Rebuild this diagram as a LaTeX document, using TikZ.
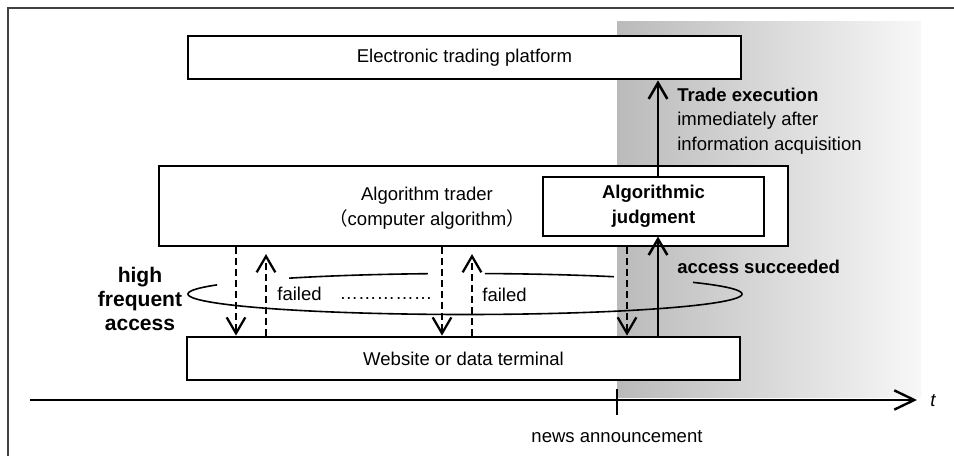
\documentclass[tikz,border=0pt]{standalone}
\usepackage{fontspec}
\setmainfont{Liberation Sans}
\newfontfamily\cjkfont{Noto Sans CJK JP}
\usetikzlibrary{arrows.meta, positioning}
\definecolor{cFrame}{gray}{0.25}

\begin{document}
\begin{tikzpicture}[
  x=0.75pt, y=-0.75pt,
  lbl/.style={inner sep=0pt, font=\fontsize{13.9}{18.4}\selectfont},
  boldlbl/.style={inner sep=0pt, font=\fontsize{13.9}{18.4}\selectfont\bfseries},
  bigbold/.style={inner sep=0pt, align=center,
                  font=\fontsize{15.8}{18}\selectfont\bfseries},
  sysbox/.style={rectangle, draw, line width=2.1pt, fill=white, inner sep=0pt,
                 minimum width=414.75pt, minimum height=32.25pt,
                 font=\fontsize{13.9}{18.4}\selectfont},
  jbox/.style={rectangle, draw, line width=0.8pt, fill=white, inner sep=0pt,
               minimum width=165.75pt, minimum height=44.25pt, align=center,
               font=\fontsize{13.9}{18.4}\selectfont\bfseries},
  darr/.style={-{Straight Barb[length=12pt, width=14pt]}, line width=1.7pt,
               dash pattern=on 5.25pt off 3pt},
  sarr/.style={-{Straight Barb[length=12pt, width=14pt]}, line width=1.9pt},
  taxis/.style={-{Straight Barb[length=15pt, width=14.5pt]}, line width=1.8pt},
  loopline/.style={line width=1.2pt},
]
\useasboundingbox (0,0) rectangle (954,456);

% time after the news
\shade[left color=black!27, right color=black!3] (617,22) rectangle (921,397);

% frame
\draw[cFrame, line width=1.2pt] (8,456) -- (8,8) -- (954,8);

\node[sysbox] (plat) at (464.5,57.5) {Electronic trading platform};
\node[sysbox, minimum width=471.75pt, minimum height=60pt] (trader) at (473.5,206) {};
\node[lbl, align=center] (trtext) at (427,208)
  {Algorithm trader\\{\cjkfont （}computer algorithm{\cjkfont ）}};
\node[jbox] (jdg) at (653.5,206.5) {Algorithmic\\judgment};
\node[sysbox] (web) at (463.5,358.5) {Website or data terminal};

% repeated access
\draw[loopline] plot[domain=0:180, samples=72, smooth]
  ({465+277*cos(\x)}, {294+20.5*sin(\x)});
\draw[loopline] plot[domain=-180:-153.5, samples=12, smooth]
  ({465+277*cos(\x)}, {294+20.5*sin(\x)});
\draw[loopline] plot[domain=-129.4:-97.7, samples=12, smooth]
  ({465+277*cos(\x)}, {294+20.5*sin(\x)});
\draw[loopline] plot[domain=-85.9:-57.5, samples=12, smooth]
  ({465+277*cos(\x)}, {294+20.5*sin(\x)});
\draw[loopline] plot[domain=-34.6:0, samples=12, smooth]
  ({465+277*cos(\x)}, {294+20.5*sin(\x)});

\draw[darr] (trader.south -| 236,0) -- (web.north -| 236,0);
\draw[darr, shorten >=5pt] (web.north -| 266,0) -- (trader.south -| 266,0);
\draw[darr] (trader.south -| 442,0) -- (web.north -| 442,0);
\draw[darr, shorten >=5pt] (web.north -| 472,0) -- (trader.south -| 472,0);
\draw[darr] (trader.south -| 627,0) -- (web.north -| 627,0);
\draw[sarr] (web.north -| 658,0) -- (jdg.south -| 658,0);
\draw[sarr] (jdg.north -| 658,0) -- (plat.south -| 658,0);

\node[lbl] (failA) at (299.5,294) {failed};
\node[lbl, anchor=base] (dots) at (386,300) {……………};
\node[lbl] (failB) at (504.5,295) {failed};
\node[bigbold] (hfa) at (140,299) {high\\frequent\\access};
\node[boldlbl, anchor=west] (succ) at (677,267) {access succeeded};
\node[lbl, anchor=west, align=left] (exec) at (677,121)
  {{\bfseries Trade execution}\\immediately after\\information acquisition};

% time axis
\coordinate (tstart) at (30,400);
\coordinate (tend) at (917,400);
\draw[taxis] (tstart) -- (tend);
\node[lbl, anchor=west, font=\fontsize{13.9}{18.4}\selectfont\itshape] (tlab)
  at (930,401) {t};
\coordinate (news) at (617,400);
\draw[line width=1.5pt] (617,389) -- (617,415);
\node[lbl] (newsl) at (617,437) {news announcement};

\end{tikzpicture}
\end{document}
